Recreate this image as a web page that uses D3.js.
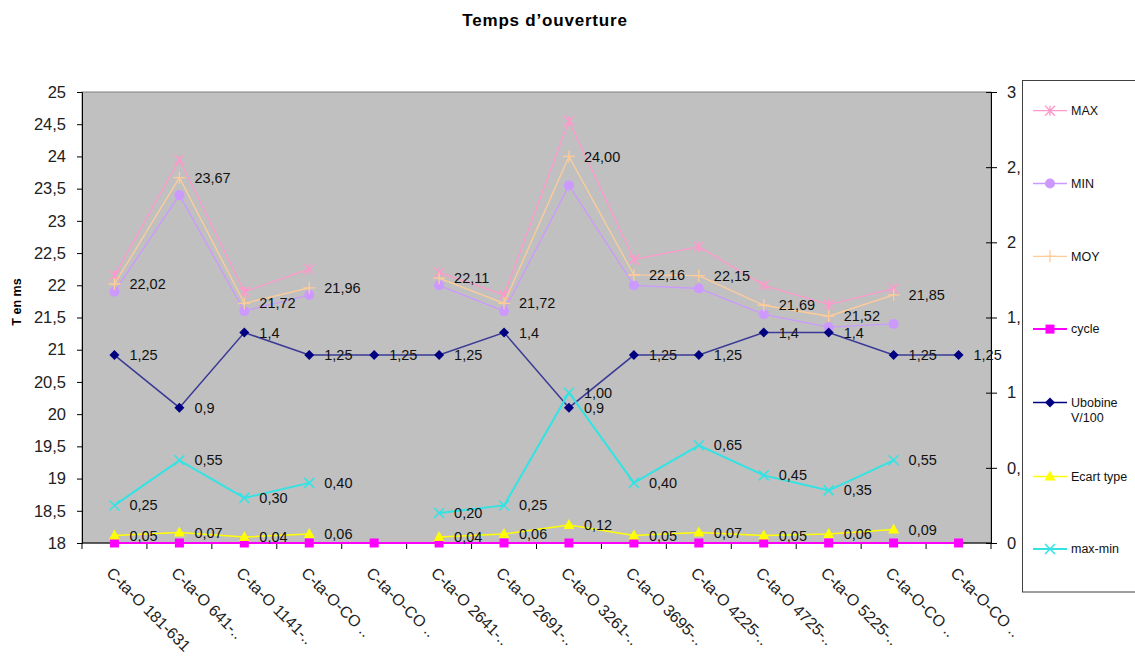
<!DOCTYPE html>
<html>
<head>
<meta charset="utf-8">
<script src="https://cdn.jsdelivr.net/npm/d3@7"></script>
<style>
  html, body { margin: 0; padding: 0; background: #fff; }
  svg { display: block; font-family: "Liberation Sans", Arial, sans-serif; }
</style>
</head>
<body>
<svg id="chart" width="1135" height="657"></svg>
<script>
// ---------- data ----------
const categories = [
  "C-ta-O 181-631", "C-ta-O 641-..", "C-ta-O 1141-..", "C-ta-O-CO ..",
  "C-ta-O-CO ..", "C-ta-O 2641-..", "C-ta-O 2691-..", "C-ta-O 3261-..",
  "C-ta-O 3695-..", "C-ta-O 4225-..", "C-ta-O 4725-..", "C-ta-O 5225-..",
  "C-ta-O-CO ..", "C-ta-O-CO .."
];
const maxVals   = [22.15, 23.95, 21.90, 22.25, null, 22.20, 21.85, 24.55, 22.40, 22.60, 22.00, 21.70, 21.95, null];
const minVals   = [21.90, 23.40, 21.60, 21.85, null, 22.00, 21.60, 23.55, 22.00, 21.95, 21.55, 21.35, 21.40, null];
const moyVals   = [22.02, 23.67, 21.72, 21.96, null, 22.11, 21.72, 24.00, 22.16, 22.15, 21.69, 21.52, 21.85, null];
const cycleVals = [0, 0, 0, 0, 0, 0, 0, 0, 0, 0, 0, 0, 0, 0];
const ubobineVals = [1.25, 0.9, 1.4, 1.25, 1.25, 1.25, 1.4, 0.9, 1.25, 1.25, 1.4, 1.4, 1.25, 1.25];
const ecartVals = [0.05, 0.07, 0.04, 0.06, null, 0.04, 0.06, 0.12, 0.05, 0.07, 0.05, 0.06, 0.09, null];
const maxminVals = [0.25, 0.55, 0.30, 0.40, null, 0.20, 0.25, 1.00, 0.40, 0.65, 0.45, 0.35, 0.55, null];
const leftTicks  = [18, 18.5, 19, 19.5, 20, 20.5, 21, 21.5, 22, 22.5, 23, 23.5, 24, 24.5, 25];
const rightTicks = [0, 0.5, 1, 1.5, 2, 2.5, 3];
const seriesNames = ["MAX", "MIN", "MOY", "cycle", "Ubobine V/100", "Ecart type", "max-min"];
const titleText = "Temps d\u2019ouverture";
const yTitle = "T en ms";

// ---------- layout ----------
const svg = d3.select("#chart");
const L = 82, R = 991, T = 92, B = 543;
const fmtComma = v => String(v).replace(".", ",");
const fmt2 = v => v.toFixed(2).replace(".", ",");

const x = d3.scaleBand().domain(d3.range(categories.length)).range([L, R]);
const cx = i => x(i) + x.bandwidth() / 2;
const yL = d3.scaleLinear().domain([18, 25]).range([B, T]);
const yR = d3.scaleLinear().domain([0, 3]).range([B, T]);

// plot background
svg.append("rect").attr("x", L).attr("y", T).attr("width", R - L).attr("height", B - T)
  .attr("fill", "#C0C0C0").attr("stroke", "#808080").attr("stroke-width", 1);

// title
svg.append("text").attr("x", 545).attr("y", 26).attr("text-anchor", "middle")
  .attr("font-size", 17).attr("font-weight", "bold").attr("letter-spacing", 0.8)
  .text(titleText);

// y title
svg.append("text").attr("transform", "translate(21,302) rotate(-90)")
  .attr("text-anchor", "middle").attr("font-size", 12.5).attr("font-weight", "bold")
  .text(yTitle);

// left axis
const gL = svg.append("g").attr("transform", `translate(${L},0)`)
  .call(d3.axisLeft(yL).tickValues(leftTicks).tickSize(5).tickPadding(11).tickFormat(fmtComma));
gL.select(".domain").attr("stroke", "#000");
gL.selectAll("text").attr("font-size", 16.5).attr("fill", "#222").attr("font-family", "Liberation Sans, Arial, sans-serif");

// right axis (labels clipped where the legend begins)
svg.append("clipPath").attr("id", "rclipLocal").append("rect")
  .attr("x", -20).attr("y", 0).attr("width", 1021 - R + 20).attr("height", 657);
const gR = svg.append("g").attr("transform", `translate(${R},0)`)
  .call(d3.axisRight(yR).tickValues(rightTicks).tickSize(6).tickPadding(10).tickFormat(fmtComma));
gR.attr("clip-path", "url(#rclipLocal)");
gR.select(".domain").attr("stroke", "#000");
gR.selectAll(".tick line").attr("x1", -5);
gR.selectAll("text").attr("font-size", 16.5).attr("fill", "#222").attr("font-family", "Liberation Sans, Arial, sans-serif");

// bottom axis: ticks at category boundaries
const xBound = d3.range(categories.length + 1).map(i => L + i * x.step());
svg.append("line").attr("x1", L).attr("x2", R).attr("y1", B).attr("y2", B).attr("stroke", "#000");
svg.append("g").selectAll("line").data(xBound).join("line")
  .attr("x1", d => d).attr("x2", d => d).attr("y1", B).attr("y2", B + 6).attr("stroke", "#000");

// category labels (rotated 45°)
svg.append("g").selectAll("text").data(categories).join("text")
  .attr("transform", (d, i) => `translate(${cx(i) - 1},${B + 23}) rotate(45)`)
  .attr("dy", "0.71em").attr("font-size", 16).attr("fill", "#222")
  .text(d => d);

// ---------- series ----------
const series = [
  { name: "MAX", vals: maxVals, y: yL, color: "#FF99CC", width: 1.3, marker: "star" },
  { name: "MIN", vals: minVals, y: yL, color: "#CC99FF", width: 1.3, marker: "circle" },
  { name: "MOY", vals: moyVals, y: yL, color: "#FFCC99", width: 1.3, marker: "plus", label: fmt2 },
  { name: "cycle", vals: cycleVals, y: yR, color: "#FF00FF", width: 2, marker: "square" },
  { name: "Ubobine V/100", vals: ubobineVals, y: yR, color: "#000080", width: 1.5, lineColor: "#3A3A96", marker: "diamond", label: fmtComma },
  { name: "Ecart type", vals: ecartVals, y: yR, color: "#FFFF00", width: 1.5, marker: "triangle", label: fmt2 },
  { name: "max-min", vals: maxminVals, y: yR, color: "#33E3E3", width: 2, marker: "x", label: fmt2 }
];

function markerPath(type) {
  switch (type) {
    case "star": return "M-5,-5L5,5M-5,5L5,-5M0,-5L0,5";
    case "plus": return "M-6,0H6M0,-6V6";
    case "x": return "M-5,-5L5,5M-5,5L5,-5";
    case "circle": return d3.symbol(d3.symbolCircle, 80)();
    case "square": return "M-4.5,-4.5H4.5V4.5H-4.5Z";
    case "diamond": return "M0,-5L5,0L0,5L-5,0Z";
    case "triangle": return "M0,-6L5.5,4L-5.5,4Z";
  }
}
const filled = t => ["circle", "square", "diamond", "triangle"].includes(t);

function drawMarker(g, type, color) {
  const p = g.append("path").attr("d", markerPath(type));
  if (filled(type)) p.attr("fill", color).attr("stroke", "none");
  else p.attr("fill", "none").attr("stroke", color).attr("stroke-width", type === "x" ? 1.5 : 1.3);
}

const gS = svg.append("g");
series.forEach(s => {
  const line = d3.line().defined(d => d != null).x((d, i) => cx(i)).y(d => s.y(d));
  gS.append("path").attr("d", line(s.vals)).attr("fill", "none")
    .attr("stroke", s.lineColor || s.color).attr("stroke-width", s.width);
  s.vals.forEach((v, i) => {
    if (v == null) return;
    const g = gS.append("g").attr("transform", `translate(${cx(i)},${s.y(v)})`);
    drawMarker(g, s.marker, s.color);
  });
});

// data labels
const gLab = svg.append("g");
series.filter(s => s.label).forEach(s => {
  s.vals.forEach((v, i) => {
    if (v == null) return;
    gLab.append("text").attr("x", cx(i) + 15).attr("y", s.y(v)).attr("dy", "0.35em")
      .attr("font-size", 14.5).attr("fill", "#111").text(s.label(v));
  });
});

// ---------- legend ----------
svg.append("rect").attr("x", 1022.5).attr("y", 80.5).attr("width", 130).attr("height", 511.5)
  .attr("fill", "#fff").attr("stroke", "#404040").attr("stroke-width", 1);
const legY = [110.7, 183.5, 256.3, 329.1, 402.5, 476.5, 549];
series.forEach((s, k) => {
  const g = svg.append("g").attr("transform", `translate(0,${legY[k]})`);
  g.append("line").attr("x1", 1033).attr("x2", 1067).attr("stroke", s.color).attr("stroke-width", s.width);
  const m = g.append("g").attr("transform", "translate(1050,0)");
  drawMarker(m, s.marker, s.color);
  const t = g.append("text").attr("x", 1071).attr("dy", "0.35em").attr("font-size", 12.5).attr("fill", "#111");
  const parts = seriesNames[k].split(" ");
  if (seriesNames[k] === "Ubobine V/100") {
    t.append("tspan").attr("x", 1071).text(parts[0]);
    t.append("tspan").attr("x", 1071).attr("dy", "1.2em").text(parts[1]);
  } else {
    t.text(seriesNames[k]);
  }
});
</script>
</body>
</html>
